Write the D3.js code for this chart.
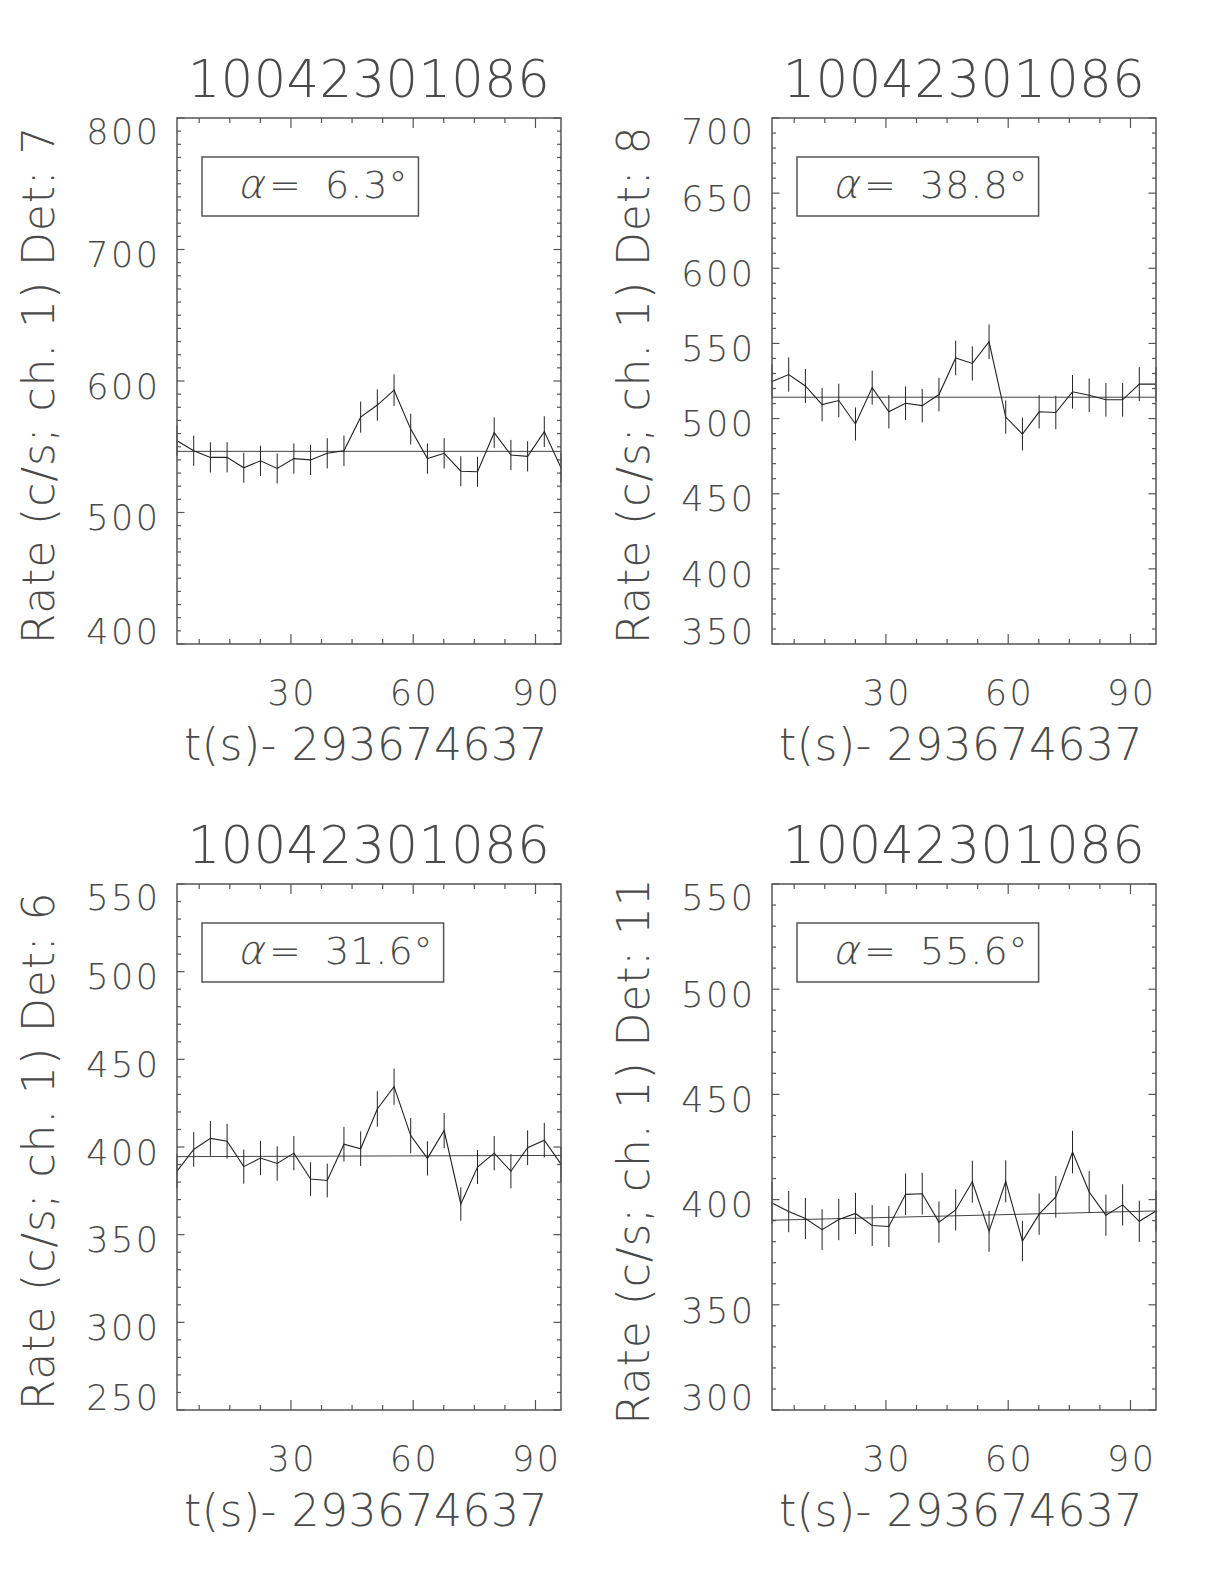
<!DOCTYPE html>
<html>
<head>
<meta charset="utf-8">
<script src="https://cdn.jsdelivr.net/npm/d3@7"></script>
<style>
  html, body { margin: 0; padding: 0; background: #fff; }
  svg text { font-family: "DejaVu Sans", "Liberation Sans", sans-serif; font-weight: 200; fill: #4a4a4a; }
</style>
</head>
<body>
<svg id="chart" width="1224" height="1584"></svg>
<script>
// ---- data ----
const times = [2.05, 6.15, 10.24, 14.34, 18.43, 22.53, 26.63, 30.72, 34.82, 38.91, 43.01, 47.11,
               51.20, 55.30, 59.39, 63.49, 67.59, 71.68, 75.78, 79.87, 83.97, 88.07, 92.16, 96.26];

const titles = ["10042301086", "10042301086", "10042301086", "10042301086"];
const detectors = ["7", "8", "6", "11"];
const alphas = ["6.3", "38.8", "31.6", "55.6"];
const xLabel = "t(s)- 293674637";
const xTickLabels = [30, 60, 90];

const rateDet7 = [554.5, 547.0, 541.9, 542.0, 534.0, 539.3, 533.5, 541.0, 540.0, 545.0, 547.0, 572.5,
                  581.7, 593.0, 563.4, 541.0, 545.0, 531.4, 531.0, 560.7, 543.7, 542.7, 561.5, 534.0];
const errDet7  = [11.6, 11.5, 11.5, 11.5, 11.4, 11.5, 11.4, 11.5, 11.5, 11.5, 11.6, 11.8,
                  11.9, 12.0, 11.7, 11.5, 11.5, 11.4, 11.4, 11.7, 11.5, 11.5, 11.7, 11.4];
const fitDet7  = [546.5, 546.5];
const yTicksDet7 = [400, 500, 600, 700, 800];

const rateDet8 = [524.7, 529.3, 521.7, 509.3, 512.0, 496.4, 520.6, 504.5, 510.2, 508.6, 516.0, 540.3,
                  536.7, 551.1, 501.0, 489.7, 504.5, 504.0, 517.8, 515.5, 512.5, 512.5, 522.9, 522.9];
const errDet8  = [11.3, 11.4, 11.3, 11.1, 11.2, 11.0, 11.3, 11.1, 11.2, 11.1, 11.2, 11.5,
                  11.4, 11.6, 11.1, 10.9, 11.1, 11.1, 11.2, 11.2, 11.2, 11.2, 11.3, 11.3];
const fitDet8  = [514.2, 514.2];
const yTicksDet8 = [350, 400, 450, 500, 550, 600, 650, 700];

const rateDet6 = [386.2, 398.6, 404.9, 403.3, 388.8, 393.7, 390.6, 396.5, 381.7, 380.9, 401.6, 399.0,
                  421.7, 434.4, 406.5, 393.5, 409.4, 367.5, 388.6, 396.5, 386.2, 399.6, 403.9, 390.2];
const errDet6  = [9.7, 9.9, 9.9, 9.9, 9.7, 9.8, 9.8, 9.8, 9.6, 9.6, 9.9, 9.9,
                  10.1, 10.3, 10.0, 9.8, 10.0, 9.5, 9.7, 9.8, 9.7, 9.9, 9.9, 9.8];
const fitDet6  = [394.5, 395.2];
const yTicksDet6 = [250, 300, 350, 400, 450, 500, 550];

const rateDet11 = [398.4, 394.3, 391.0, 385.7, 390.5, 393.4, 387.7, 387.2, 402.5, 402.8, 389.3, 395.1,
                   408.5, 384.9, 408.7, 380.3, 393.1, 401.3, 422.6, 403.6, 392.6, 397.5, 389.7, 394.6];
const errDet11  = [9.9, 9.8, 9.8, 9.7, 9.8, 9.8, 9.7, 9.7, 9.9, 9.9, 9.8, 9.8,
                   10.0, 9.7, 10.0, 9.6, 9.8, 9.9, 10.1, 9.9, 9.8, 9.8, 9.8, 9.8];
const fitDet11  = [390.2, 394.6];
const yTicksDet11 = [300, 350, 400, 450, 500, 550];

// ---- layout ----
const W = 384, H = 526;
const origins = [[177, 118], [772, 118], [177, 884], [772, 884]];
const panels = [
  { rate: rateDet7,  err: errDet7,  fit: fitDet7,  yTicks: yTicksDet7 },
  { rate: rateDet8,  err: errDet8,  fit: fitDet8,  yTicks: yTicksDet8 },
  { rate: rateDet6,  err: errDet6,  fit: fitDet6,  yTicks: yTicksDet6 },
  { rate: rateDet11, err: errDet11, fit: fitDet11, yTicks: yTicksDet11 }
];

const svg = d3.select("#chart");
const ink = "#222";
const frameInk = "#555";

panels.forEach((p, i) => {
  const [ox, oy] = origins[i];
  const g = svg.append("g").attr("transform", `translate(${ox},${oy})`);

  const x = d3.scaleLinear().domain([times[0], times[times.length - 1]]).range([0, W]);
  const yDom = [p.yTicks[0], p.yTicks[p.yTicks.length - 1]];
  const y = d3.scaleLinear().domain(yDom).range([H, 0]);

  const xMinor = d3.range(7.5, times[times.length - 1], 7.5).filter(v => v >= times[0] && xTickLabels.indexOf(v) < 0);
  const yMinor = d3.range(yDom[0], yDom[1] + 0.01, 10).filter(v => p.yTicks.indexOf(v) < 0);

  const tickG = g.append("g").attr("stroke", frameInk).attr("stroke-width", 1.2);
  xTickLabels.forEach(v => {
    tickG.append("line").attr("x1", x(v)).attr("x2", x(v)).attr("y1", H).attr("y2", H - 10);
    tickG.append("line").attr("x1", x(v)).attr("x2", x(v)).attr("y1", 0).attr("y2", 10);
  });
  xMinor.forEach(v => {
    tickG.append("line").attr("x1", x(v)).attr("x2", x(v)).attr("y1", H).attr("y2", H - 5);
    tickG.append("line").attr("x1", x(v)).attr("x2", x(v)).attr("y1", 0).attr("y2", 5);
  });
  p.yTicks.forEach(v => {
    tickG.append("line").attr("x1", 0).attr("x2", 7.5).attr("y1", y(v)).attr("y2", y(v));
    tickG.append("line").attr("x1", W).attr("x2", W - 7.5).attr("y1", y(v)).attr("y2", y(v));
  });
  yMinor.forEach(v => {
    tickG.append("line").attr("x1", 0).attr("x2", 4).attr("y1", y(v)).attr("y2", y(v));
    tickG.append("line").attr("x1", W).attr("x2", W - 4).attr("y1", y(v)).attr("y2", y(v));
  });

  // fit line
  g.append("line")
    .attr("x1", x(times[0])).attr("x2", x(times[times.length - 1]))
    .attr("y1", y(p.fit[0])).attr("y2", y(p.fit[1]))
    .attr("stroke", "#444").attr("stroke-width", 1);

  // error bars
  g.append("g").selectAll("line").data(times).join("line")
    .attr("x1", d => x(d)).attr("x2", d => x(d))
    .attr("y1", (d, k) => y(p.rate[k] - p.err[k]))
    .attr("y2", (d, k) => y(p.rate[k] + p.err[k]))
    .attr("stroke", ink).attr("stroke-width", 1);

  // data line
  const line = d3.line().x((d, k) => x(times[k])).y(d => y(d));
  g.append("path").datum(p.rate).attr("d", line)
    .attr("fill", "none").attr("stroke", ink).attr("stroke-width", 1.1);

  // frame
  g.append("rect").attr("x", 0).attr("y", 0).attr("width", W).attr("height", H)
    .attr("fill", "none").attr("stroke", frameInk).attr("stroke-width", 1.5);

  // title
  g.append("text").attr("x", W / 2).attr("y", -21).attr("text-anchor", "middle")
    .attr("font-size", 51).attr("letter-spacing", 0.5).text(titles[i]);

  // y tick labels (clamped inside axis extent)
  const yfs = 35, capH = yfs * 0.729, ls = 2.5;
  p.yTicks.forEach(v => {
    let c = y(v) + 5;
    c = Math.max(capH / 2, Math.min(H - capH / 2, c));
    g.append("text").attr("x", -19 + ls).attr("y", c + capH / 2)
      .attr("text-anchor", "end").attr("font-size", yfs)
      .attr("letter-spacing", ls).text(v);
  });

  // x tick labels
  xTickLabels.forEach(v => {
    g.append("text").attr("x", x(v) + ls / 2).attr("y", H + 61)
      .attr("text-anchor", "middle").attr("font-size", yfs)
      .attr("letter-spacing", ls).text(v);
  });

  // x title
  g.append("text").attr("x", W / 2 - 3).attr("y", H + 116)
    .attr("text-anchor", "middle").attr("font-size", 44).attr("letter-spacing", 0.5)
    .attr("xml:space", "preserve").text(xLabel);

  // y title
  g.append("text").attr("transform", `translate(-123,${H / 2 + 4}) rotate(-90)`)
    .attr("text-anchor", "middle").attr("font-size", 44).attr("letter-spacing", 0.9)
    .text(`Rate (c/s; ch. 1) Det: ${detectors[i]}`);

  // alpha legend box
  const lg = g.append("g");
  const boxX = 25, boxY = 39, boxH = 59, numX = 148, base = 80;
  lg.append("text").attr("transform", `translate(60,${base}) skewX(-14)`)
    .attr("font-size", 40).text("α");
  lg.append("text").attr("x", 92).attr("y", base).attr("font-size", 38).text("=");
  const num = lg.append("text").attr("x", numX).attr("y", base).attr("font-size", 38)
    .attr("letter-spacing", 1).text(`${alphas[i]}°`);
  const len = num.node().getComputedTextLength();
  lg.insert("rect", "text").attr("x", boxX).attr("y", boxY)
    .attr("width", numX + len + 10 - boxX).attr("height", boxH)
    .attr("fill", "none").attr("stroke", frameInk).attr("stroke-width", 1.5);
});
</script>
</body>
</html>
